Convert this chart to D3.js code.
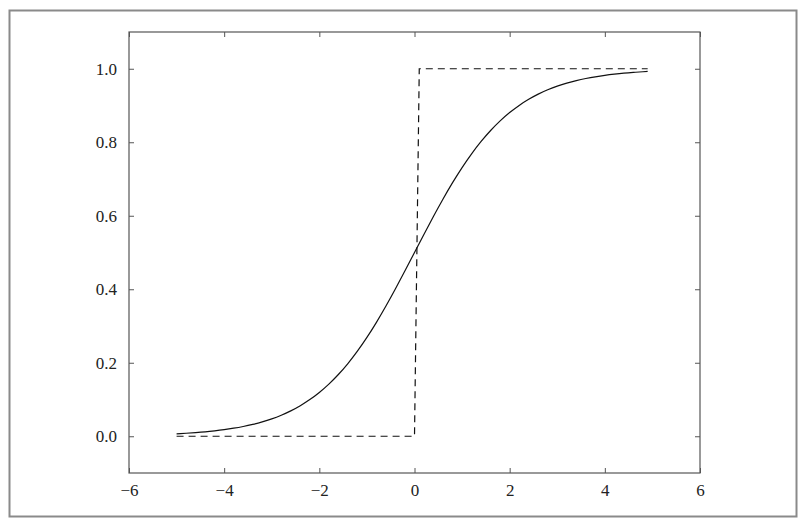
<!DOCTYPE html>
<html><head><meta charset="utf-8">
<script src="https://cdn.jsdelivr.net/npm/d3@7/dist/d3.min.js"></script>
<style>html,body{margin:0;padding:0;background:#fff;}svg{display:block;}</style>
</head><body>
<svg id="c" width="809" height="524" font-family="Liberation Serif, DejaVu Serif, serif" font-size="17"></svg>
<script>
const sigX = [-5,-4.8,-4.6,-4.4,-4.2,-4,-3.8,-3.6,-3.4,-3.2,-3,-2.8,-2.6,-2.4,-2.2,-2,-1.8,-1.6,-1.4,-1.2,-1,-0.8,-0.6,-0.4,-0.2,0,0.2,0.4,0.6,0.8,1,1.2,1.4,1.6,1.8,2,2.2,2.4,2.6,2.8,3,3.2,3.4,3.6,3.8,4,4.2,4.4,4.6,4.8,4.9];
const sigY = [0.0067,0.0082,0.0100,0.0121,0.0148,0.0180,0.0219,0.0266,0.0323,0.0392,0.0474,0.0573,0.0691,0.0832,0.0998,0.1192,0.1419,0.1680,0.1978,0.2315,0.2689,0.3100,0.3543,0.4013,0.4502,0.5000,0.5498,0.5987,0.6457,0.6900,0.7311,0.7685,0.8022,0.8320,0.8581,0.8808,0.9003,0.9168,0.9309,0.9427,0.9526,0.9608,0.9677,0.9734,0.9781,0.9820,0.9852,0.9879,0.9900,0.9918,0.9926];
const stepX = [-5, 0, 0.1, 4.9];
const stepY = [0, 0, 1, 1];
const xTicks = [-6,-4,-2,0,2,4,6];
const yTicks = [0.0,0.2,0.4,0.6,0.8,1.0];

const svg = d3.select("#c");
svg.append("rect").attr("x",9.5).attr("y",10.5).attr("width",787).attr("height",506)
  .attr("fill","none").attr("stroke","#8a8a8a").attr("stroke-width",2);

const L=129, R=700, T=32, B=473;
const x = d3.scaleLinear().domain([-6,6]).range([L,R]);
const y = d3.scaleLinear().domain([-0.1,1.1]).range([B,T]);

const fmtX = d => (d<0? "\u2212"+Math.abs(d) : String(d));
const axB = d3.axisBottom(x).tickValues(xTicks).tickFormat(fmtX).tickSizeInner(-5).tickSizeOuter(0).tickPadding(11);
const axT = d3.axisTop(x).tickValues(xTicks).tickFormat("").tickSizeInner(-5).tickSizeOuter(0);
const axL = d3.axisLeft(y).tickValues(yTicks).tickFormat(d3.format(".1f")).tickSizeInner(-5).tickSizeOuter(0).tickPadding(12);
const axR = d3.axisRight(y).tickValues(yTicks).tickFormat("").tickSizeInner(-5).tickSizeOuter(0);

function style(g){
  g.attr("font-family","Liberation Serif, DejaVu Serif, serif").attr("font-size",17);
  g.select(".domain").remove();
  g.selectAll("line").attr("stroke","#555").attr("stroke-width",1);
  g.selectAll("text").attr("fill","#222")
    .attr("font-family","Liberation Serif, DejaVu Serif, serif").attr("font-size",17)
    .style("font-family","'Liberation Serif', 'DejaVu Serif', serif").style("font-size","17px");
}
svg.append("g").attr("transform",`translate(0,${B})`).call(axB).call(style);
svg.append("g").attr("transform",`translate(0,${T})`).call(axT).call(style);
svg.append("g").attr("transform",`translate(${L},0)`).call(axL).call(style);
svg.append("g").attr("transform",`translate(${R},0)`).call(axR).call(style);

svg.append("rect").attr("x",L).attr("y",T).attr("width",R-L).attr("height",B-T)
  .attr("fill","none").attr("stroke","#555").attr("stroke-width",1.2);

const sig = sigX.map((v,i)=>[v,sigY[i]]);
const step = stepX.map((v,i)=>[v,stepY[i]]);
svg.append("path").datum(sig).attr("d",d3.line().x(d=>x(d[0])).y(d=>y(d[1])).curve(d3.curveNatural)).attr("fill","none").attr("stroke","#111").attr("stroke-width",1.2);
svg.append("path").datum(step).attr("d",d3.line().x(d=>x(d[0])).y(d=>y(d[1]))).attr("fill","none").attr("stroke","#111").attr("stroke-width",1.2).attr("stroke-dasharray","7,5");
</script>
</body></html>
